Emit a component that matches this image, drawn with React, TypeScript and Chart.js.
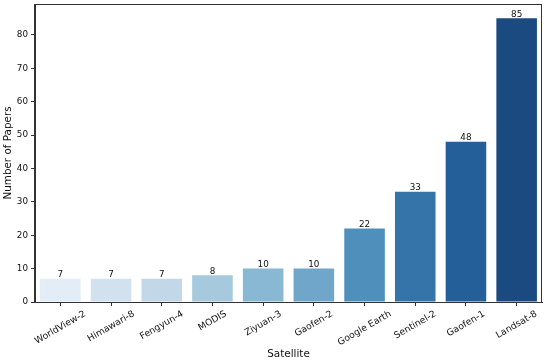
import React, { useEffect, useRef } from "react";
import { Chart, registerables } from "chart.js";

Chart.register(...registerables);

const satellites = [
  "WorldView-2",
  "Himawari-8",
  "Fengyun-4",
  "MODIS",
  "Ziyuan-3",
  "Gaofen-2",
  "Google Earth",
  "Sentinel-2",
  "Gaofen-1",
  "Landsat-8",
];
const paperCounts = [7, 7, 7, 8, 10, 10, 22, 33, 48, 85];
const barColors = [
  "#e3edf7",
  "#d1e1ef",
  "#c2d8e9",
  "#a7c9de",
  "#89b8d4",
  "#6fa6c9",
  "#4f8fbc",
  "#3574a9",
  "#245f99",
  "#1b4a80",
];
const yTickValues = [0, 10, 20, 30, 40, 50, 60, 70, 80];

const FONT = "'DejaVu Sans', sans-serif";
const TEXT = "#111";
const AXIS = "#333";

const decorPlugin = {
  id: "decor",
  afterDatasetsDraw(chart: any) {
    const ctx = chart.ctx;
    const meta = chart.getDatasetMeta(0);
    ctx.save();
    ctx.fillStyle = TEXT;
    ctx.font = `8.8px ${FONT}`;
    ctx.textAlign = "center";
    ctx.textBaseline = "bottom";
    meta.data.forEach((bar: any, i: number) => {
      ctx.fillText(String(paperCounts[i]), bar.x, bar.y + 0.5);
    });
    ctx.restore();
  },
  afterDraw(chart: any) {
    const ctx = chart.ctx;
    const { left, right, top, bottom } = chart.chartArea;
    ctx.save();
    ctx.strokeStyle = AXIS;
    ctx.lineWidth = 1;
    ctx.strokeRect(Math.round(left) - 0.5, Math.round(top) + 0.5, Math.round(right - left), Math.round(bottom - top));
    const xs = chart.scales.x;
    const fs = 9.2;
    ctx.font = `${fs}px ${FONT}`;
    ctx.fillStyle = TEXT;
    ctx.textAlign = "center";
    ctx.textBaseline = "middle";
    const th = (30 * Math.PI) / 180;
    const yTop = bottom + 7;
    satellites.forEach((lab, i) => {
      const x = xs.getPixelForValue(i);
      const w = ctx.measureText(lab).width;
      const h = fs * 1.1;
      const H = w * Math.sin(th) + h * Math.cos(th);
      ctx.save();
      ctx.translate(x, yTop + H / 2);
      ctx.rotate(-th);
      ctx.fillText(lab, 0, 0);
      ctx.restore();
    });
    ctx.restore();
  },
};

export default function App() {
  const ref = useRef<HTMLCanvasElement | null>(null);
  useEffect(() => {
    if (!ref.current) return;
    const chart = new Chart(ref.current, {
      type: "bar",
      data: {
        labels: satellites,
        datasets: [
          {
            data: paperCounts,
            backgroundColor: barColors,
            borderWidth: 0,
            barPercentage: 0.8,
            categoryPercentage: 1.0,
          },
        ],
      },
      options: {
        animation: false,
        responsive: true,
        maintainAspectRatio: false,
        layout: { padding: { left: 0, right: 8, top: 4, bottom: 0 } },
        plugins: { legend: { display: false }, tooltip: { enabled: false } },
        scales: {
          x: {
            type: "category",
            offset: true,
            afterFit: (s: any) => {
              s.height = 60;
              s.paddingLeft = 0;
              s.paddingRight = 0;
            },
            grid: {
              display: true,
              drawOnChartArea: false,
              drawTicks: true,
              tickLength: 4,
              color: AXIS,
              offset: false,
            },
            border: { display: true, color: AXIS },
            ticks: { display: false },
            title: {
              display: true,
              text: "Satellite",
              color: TEXT,
              font: { family: FONT, size: 10.4 },
              padding: { top: 0, bottom: 1 },
            },
          },
          y: {
            min: 0,
            max: 89.25,
            afterFit: (s: any) => {
              s.width = 35;
              s.paddingTop = 0;
              s.paddingBottom = 0;
            },
            afterBuildTicks: (s: any) => {
              s.ticks = yTickValues.map((v) => ({ value: v }));
            },
            grid: {
              display: true,
              drawOnChartArea: false,
              drawTicks: true,
              tickLength: 4,
              color: AXIS,
            },
            border: { display: true, color: AXIS },
            ticks: {
              color: TEXT,
              font: { family: FONT, size: 8.8 },
              padding: 3,
              callback: (v: any) => String(v),
            },
            title: {
              display: true,
              text: "Number of Papers",
              color: TEXT,
              font: { family: FONT, size: 10.4 },
              padding: { top: 2, bottom: 0 },
            },
          },
        },
      },
      plugins: [decorPlugin],
    });
    return () => chart.destroy();
  }, []);
  return (
    <div style={{ position: "fixed", left: 0, top: 0, width: 550, height: 362, background: "#fff" }}>
      <canvas ref={ref} />
    </div>
  );
}
